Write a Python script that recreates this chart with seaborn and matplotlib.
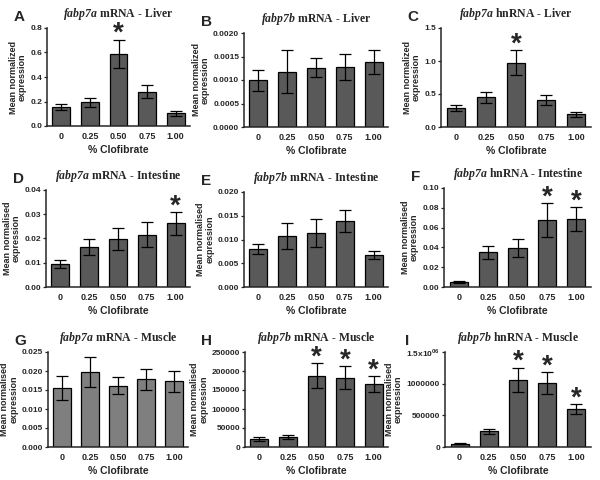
"""Clofibrate dose response of fabp7a / fabp7b transcripts (9 panel bar chart)"""
import pandas as pd
import matplotlib.pyplot as plt
import seaborn as sns

sns.set_style("ticks")
plt.rcParams['font.family'] = ['Liberation Sans', 'DejaVu Sans']
plt.rcParams['font.weight'] = 'bold'
plt.rcParams['axes.labelweight'] = 'bold'
plt.rcParams['mathtext.fontset'] = 'custom'
plt.rcParams['mathtext.bfit'] = 'Liberation Serif:italic:bold'
plt.rcParams['mathtext.bf'] = 'Liberation Sans:bold'

# Data
doses = ['0', '0.25', '0.50', '0.75', '1.00']

liver_7a_mrna = [0.155, 0.195, 0.59, 0.28, 0.105]
liver_7a_mrna_err = [0.022, 0.037, 0.115, 0.055, 0.02]
liver_7b_mrna = [0.00099, 0.00118, 0.00126, 0.00128, 0.00138]
liver_7b_mrna_err = [0.00023, 0.00046, 0.0002, 0.00027, 0.00026]
liver_7a_hnrna = [0.29, 0.45, 0.975, 0.41, 0.19]
liver_7a_hnrna_err = [0.045, 0.085, 0.185, 0.075, 0.035]

intest_7a_mrna = [0.0095, 0.0165, 0.0198, 0.0216, 0.0262]
intest_7a_mrna_err = [0.0016, 0.0032, 0.0045, 0.0053, 0.0047]
intest_7b_mrna = [0.0080, 0.0107, 0.0114, 0.0139, 0.0067]
intest_7b_mrna_err = [0.001, 0.0027, 0.003, 0.0024, 0.0008]
intest_7a_hnrna = [0.005, 0.035, 0.039, 0.068, 0.069]
intest_7a_hnrna_err = [0.001, 0.0068, 0.009, 0.017, 0.012]

muscle_7a_mrna = [0.0156, 0.0197, 0.0161, 0.0178, 0.0173]
muscle_7a_mrna_err = [0.0031, 0.0039, 0.0022, 0.0027, 0.0027]
muscle_7b_mrna = [22000, 27000, 188000, 182000, 165000]
muscle_7b_mrna_err = [5000, 5000, 32000, 30000, 21000]
muscle_7b_hnrna = [50000, 245000, 1065000, 1010000, 595000]
muscle_7b_hnrna_err = [10000, 40000, 190000, 170000, 80000]

# panel: letter, gene, rest of title, values, errors, ylim, ytick step, tick format, stars, bar colour, ylabel spelling, box (left, top, right, bottom px)
panels = [
    ('A', 'fabp7a', 'mRNA - Liver', liver_7a_mrna, liver_7a_mrna_err, 0.8, 0.2, '{:.1f}', ['0.50'], '#595959', 'normalized', (47, 28, 190, 126)),
    ('B', 'fabp7b', 'mRNA - Liver', liver_7b_mrna, liver_7b_mrna_err, 0.002, 0.0005, '{:.4f}', [], '#595959', 'normalized', (244, 33, 388, 127)),
    ('C', 'fabp7a', 'hnRNA - Liver', liver_7a_hnrna, liver_7a_hnrna_err, 1.5, 0.5, '{:.1f}', ['0.50'], '#595959', 'normalized', (441, 28, 591, 127)),
    ('D', 'fabp7a', 'mRNA - Intestine', intest_7a_mrna, intest_7a_mrna_err, 0.04, 0.01, '{:.2f}', ['1.00'], '#595959', 'normalised', (46, 190, 190, 287)),
    ('E', 'fabp7b', 'mRNA - Intestine', intest_7b_mrna, intest_7b_mrna_err, 0.02, 0.005, '{:.3f}', [], '#595959', 'normalised', (244, 192, 388, 287)),
    ('F', 'fabp7a', 'hnRNA - Intestine', intest_7a_hnrna, intest_7a_hnrna_err, 0.10, 0.02, '{:.2f}', ['0.75', '1.00'], '#595959', 'normalised', (444, 188, 591, 287)),
    ('G', 'fabp7a', 'mRNA - Muscle', muscle_7a_mrna, muscle_7a_mrna_err, 0.025, 0.005, '{:.3f}', [], '#7f7f7f', 'normalised', (48, 352, 188, 447)),
    ('H', 'fabp7b', 'mRNA - Muscle', muscle_7b_mrna, muscle_7b_mrna_err, 250000, 50000, '{:.0f}', ['0.50', '0.75', '1.00'], '#595959', 'normalised', (245, 352, 388, 447)),
    ('I', 'fabp7b', 'hnRNA - Muscle', muscle_7b_hnrna, muscle_7b_hnrna_err, 1500000, 500000, '{:.0f}', ['0.50', '0.75', '1.00'], '#595959', 'normalised', (445, 352, 591, 447)),
]

W, H = 600, 480
fig = plt.figure(figsize=(6, 4.8), dpi=100)

for letter, gene, rest, vals, errs, ymax, step, fmt, stars, color, spelling, box in panels:
    l, t, r, b = box
    ax = fig.add_axes([l / W, 1 - b / H, (r - l) / W, (b - t) / H])
    df = pd.DataFrame({'dose': doses, 'value': vals, 'err': errs})
    sns.barplot(data=df, x='dose', y='value', color=color, edgecolor='black',
                linewidth=0.9, width=0.62, errorbar=None, saturation=1, ax=ax)
    ax.errorbar(range(len(doses)), df['value'], yerr=df['err'], fmt='none',
                ecolor='black', elinewidth=0.9, capsize=4.5, capthick=0.9)
    for s in stars:
        i = doses.index(s)
        ax.annotate('*', (i, vals[i] + errs[i]), xytext=(0, -1), textcoords='offset points',
                    ha='center', va='baseline', fontsize=20, fontweight='bold',
                    annotation_clip=False)

    ax.set_xlim(-0.5, len(doses) - 0.5)
    ax.set_ylim(0, ymax)
    ticks = [k * step for k in range(int(round(ymax / step)) + 1)]
    ax.set_yticks(ticks)
    labels = [fmt.format(v) for v in ticks]
    if letter == 'I':
        labels[-1] = r'1.5x10$^{\mathbf{06}}$'
    ax.set_yticklabels(labels)
    ax.tick_params(axis='y', labelsize=6, length=2.5, width=0.9, pad=1)
    ax.tick_params(axis='x', labelsize=6.5, length=0, pad=4)
    for lab in ax.get_xticklabels() + ax.get_yticklabels():
        lab.set_fontweight('bold')
    ax.set_xlabel('% Clofibrate', fontsize=7.5, labelpad=3)
    ax.set_ylabel(f'Mean {spelling}\nexpression', fontsize=6.5, labelpad=2.5, linespacing=1.0)
    sns.despine(ax=ax)
    for sp in ('left', 'bottom'):
        ax.spines[sp].set_linewidth(1.1)
    ax.set_title(r'$\mathbfit{' + gene + '}$ ' + rest, fontsize=8.5, fontweight='bold',
                 family='Liberation Serif', pad=8)
    fig.text((l - 28) / W if letter not in 'BEHI' else (l - 38) / W, 1 - (t - 11) / H, letter,
             fontsize=11, fontweight='bold', ha='center', va='center')

plt.savefig('out.png', dpi=100)
